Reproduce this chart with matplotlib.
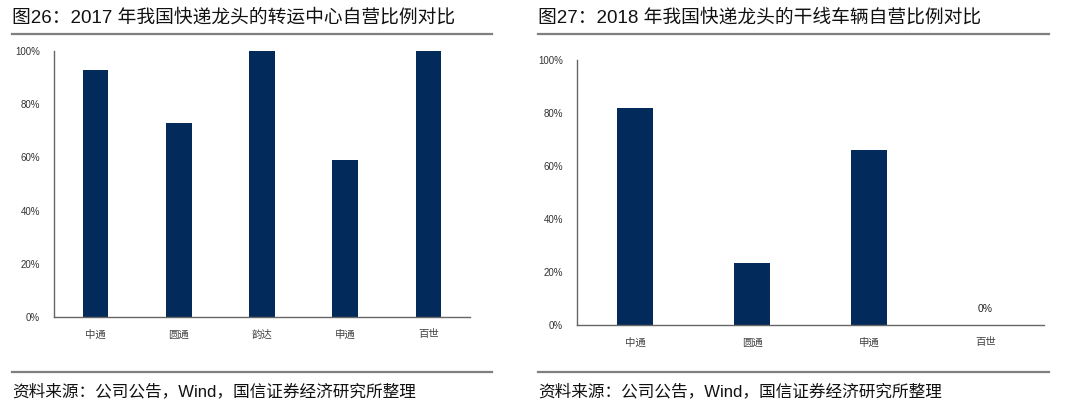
import matplotlib
matplotlib.use("Agg")
import matplotlib.pyplot as plt
from matplotlib.ticker import PercentFormatter
from matplotlib.lines import Line2D

plt.rcParams['font.family'] = ['Noto Sans CJK SC', 'DejaVu Sans']
mixed = ['Liberation Sans', 'Noto Sans CJK SC', 'DejaVu Sans']

title1 = "图26：2017 年我国快递龙头的转运中心自营比例对比"
cats1 = ["中通", "圆通", "韵达", "申通", "百世"]
vals1 = [93, 73, 100, 59, 100]

title2 = "图27：2018 年我国快递龙头的干线车辆自营比例对比"
cats2 = ["中通", "圆通", "申通", "百世"]
vals2 = [82, 23.5, 66, 0]

source = "资料来源：公司公告，Wind，国信证券经济研究所整理"
yticks = [0, 20, 40, 60, 80, 100]

W, H = 1080, 408
fig = plt.figure(figsize=(W / 100, H / 100), dpi=100)

navy = "#022A5B"
gray_line = "#7f7f7f"


def fx(px):
    return px / W


def fy(py):
    return 1 - py / H


def panel(x0, x1, ax_l, ax_r, ax_t, ax_b, title, cats, vals, zero_label=False):
    fig.text(fx(x0), fy(18), title, fontsize=13.5, va='center', ha='left',
             color='#111111', family=mixed)
    fig.add_artist(Line2D([fx(x0), fx(x1)], [fy(34), fy(34)], color=gray_line, lw=1.6))
    fig.add_artist(Line2D([fx(x0), fx(x1)], [fy(372), fy(372)], color=gray_line, lw=1.6))
    fig.text(fx(x0), fy(391), source, fontsize=12, va='center', ha='left',
             color='#111111', family=mixed)

    ax = fig.add_axes([fx(ax_l), fy(ax_b), fx(ax_r) - fx(ax_l), fy(ax_t) - fy(ax_b)])
    xs = list(range(len(cats)))
    ax.bar(xs, vals, width=0.31, color=navy)
    ax.set_xlim(-0.5, len(cats) - 0.5)
    ax.set_ylim(0, 100)
    ax.set_yticks(yticks)
    ax.yaxis.set_major_formatter(PercentFormatter(decimals=0))
    ax.set_xticks(xs)
    ax.set_xticklabels(cats, fontsize=7.5, color='#444444')
    for lab in ax.get_yticklabels():
        lab.set_family(['Liberation Sans', 'DejaVu Sans'])
        lab.set_fontsize(7)
        lab.set_color('#333333')
    ax.tick_params(axis='both', length=0)
    ax.tick_params(axis='x', pad=9)
    ax.tick_params(axis='y', pad=10)
    for s in ['top', 'right']:
        ax.spines[s].set_visible(False)
    for s in ['left', 'bottom']:
        ax.spines[s].set_color('#666666')
        ax.spines[s].set_linewidth(1.0)
    if zero_label:
        for x, v in zip(xs, vals):
            if v == 0:
                ax.text(x, v + 4, "0%", ha='center', va='bottom', fontsize=7.5,
                        family=['Liberation Sans', 'DejaVu Sans'], color='#222222')
    return ax


panel(12, 492, 54, 470, 51, 317, title1, cats1, vals1)
panel(538, 1049, 577, 1044, 60, 325, title2, cats2, vals2, zero_label=True)

fig.savefig("out.png", dpi=100)
